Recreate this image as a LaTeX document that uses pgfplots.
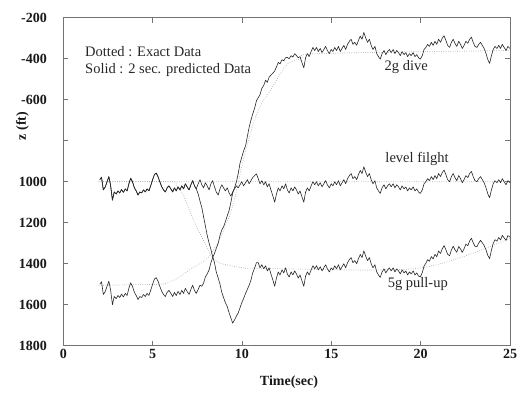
\documentclass[border=0pt]{standalone}
\usepackage{pgfplots}
\usepackage{pgfplotstable}
\pgfplotsset{compat=1.18}
\usepackage{fontspec}
\setmainfont{Liberation Serif}

\pgfplotstableread{
t L P D
2.04 990 990 1500
2.14 978 978 1488
2.24 1040 1040 1550
2.35 1025 1025 1535
2.45 1000 1000 1510
2.55 975 975 1485
2.65 1020 1020 1530
2.75 1090 1090 1600
2.85 1050 1050 1560
2.96 1060 1060 1570
3.06 1045 1045 1555
3.16 1055 1055 1565
3.26 1038 1038 1548
3.36 1052 1052 1562
3.47 1035 1035 1545
3.57 1045 1045 1555
3.67 1010 1010 1520
3.77 983 983 1493
3.87 1000 1000 1510
3.98 1030 1030 1540
4.08 1045 1045 1555
4.18 1065 1065 1575
4.28 1050 1050 1560
4.38 1055 1055 1565
4.49 1040 1040 1550
4.59 1050 1050 1560
4.69 1035 1035 1545
4.79 1045 1045 1555
4.89 1020 1020 1530
5.00 990 990 1500
5.10 965 965 1475
5.20 958 958 1468
5.30 975 975 1485
5.40 1000 1000 1510
5.51 1025 1025 1535
5.61 1040 1040 1550
5.71 1050 1050 1560
5.81 1030 1030 1540
5.91 1020 1020 1530
6.02 1035 1035 1545
6.12 1050 1050 1560
6.22 1030 1030 1540
6.32 1045 1045 1555
6.42 1025 1025 1535
6.53 1040 1040 1550
6.63 1020 1020 1530
6.73 1035 1035 1545
6.83 1010 1010 1520
6.93 1025 1025 1535
7.04 1040 1040 1550
7.14 1015 1015 1525
7.24 995 995 1505
7.34 1020 1020 1530
7.44 1035 1035 1545
7.55 1010 1060 1525
7.65 990 1095 1505
7.75 1015 1125 1510
7.85 1030 1170 1495
7.95 1005 1215 1465
8.05 1020 1260 1450
8.16 1040 1300 1430
8.26 1010 1330 1395
8.36 995 1365 1370
8.46 1025 1395 1350
8.56 1050 1440 1325
8.67 1065 1470 1300
8.77 1035 1500 1262
8.87 1015 1540 1235
8.97 1030 1565 1220
9.07 1045 1590 1195
9.18 1030 1610 1165
9.28 1055 1640 1140
9.38 1070 1665 1100
9.48 1050 1690 1055
9.58 1035 1675 1030
9.69 1020 1655 1000
9.79 1030 1640 960
9.89 1015 1615 910
9.99 1000 1590 880
10.09 1020 1570 850
10.20 1005 1545 825
10.30 990 1525 780
10.40 1010 1505 735
10.50 995 1480 700
10.60 980 1445 670
10.71 970 1420 640
10.81 962 1395 605
10.91 985 1395 590
11.01 1010 1420 575
11.11 995 1405 545
11.22 1015 1425 530
11.32 1000 1410 505
11.42 1025 1435 515
11.52 1010 1420 490
11.62 1040 1450 480
11.73 1070 1480 470
11.83 1100 1510 460
11.93 1060 1470 440
12.03 1030 1440 418
12.13 1045 1455 425
12.24 1020 1430 405
12.34 1035 1445 410
12.44 1010 1420 395
12.54 1040 1450 394
12.64 1055 1465 400
12.75 1030 1440 385
12.85 1045 1455 392
12.95 1025 1435 375
13.05 1040 1450 385
13.15 1060 1470 395
13.25 1045 1455 390
13.36 1075 1485 420
13.46 1100 1510 445
13.56 1050 1460 395
13.66 1030 1440 375
13.76 1045 1455 390
13.87 1020 1430 365
13.97 1000 1410 345
14.07 1015 1425 360
14.17 1000 1410 345
14.27 1020 1430 365
14.38 1005 1415 350
14.48 1025 1435 370
14.58 1010 1420 355
14.68 995 1405 340
14.78 1015 1425 360
14.89 1030 1440 375
14.99 1010 1420 355
15.09 1020 1430 365
15.19 1000 1410 345
15.29 1015 1425 360
15.40 995 1405 340
15.50 1020 1430 365
15.60 1005 1415 350
15.70 990 1400 335
15.80 1010 1420 355
15.91 985 1395 330
16.01 970 1380 315
16.11 960 1370 305
16.21 985 1395 330
16.31 975 1385 320
16.42 990 1400 335
16.52 965 1375 310
16.62 945 1355 290
16.72 960 1370 305
16.82 927 1337 272
16.93 955 1365 300
17.03 975 1385 320
17.13 960 1370 305
17.23 990 1400 335
17.33 1010 1420 355
17.44 995 1405 340
17.54 1030 1440 375
17.64 1045 1455 390
17.74 1057 1467 402
17.84 1030 1440 375
17.95 1015 1425 360
18.05 1035 1445 380
18.15 1020 1430 365
18.25 1010 1420 355
18.35 1025 1435 370
18.46 1010 1420 355
18.56 1030 1440 375
18.66 1015 1425 360
18.76 1025 1435 370
18.86 1040 1450 385
18.96 1020 1430 365
19.07 1035 1445 380
19.17 1025 1435 370
19.27 1045 1455 390
19.37 1030 1440 375
19.47 1040 1450 385
19.58 1025 1435 370
19.68 1045 1455 390
19.78 1035 1445 380
19.88 1050 1460 395
19.98 1057 1464 402
20.09 1040 1444 385
20.19 1010 1411 355
20.29 1000 1398 345
20.39 985 1380 330
20.49 995 1388 340
20.60 975 1365 320
20.70 990 1377 335
20.80 970 1354 315
20.90 985 1366 330
21.00 960 1338 305
21.11 975 1350 320
21.21 955 1327 300
21.31 943 1312 288
21.41 965 1331 310
21.51 990 1354 335
21.62 1000 1361 345
21.72 975 1333 320
21.82 960 1315 305
21.92 980 1332 325
22.02 995 1344 340
22.13 970 1316 315
22.23 985 1328 330
22.33 1005 1345 350
22.43 990 1327 335
22.53 970 1305 315
22.64 980 1312 325
22.74 960 1289 305
22.84 950 1276 295
22.94 975 1298 320
23.04 995 1315 340
23.15 1000 1317 345
23.25 985 1299 330
23.35 975 1286 320
23.45 990 1298 335
23.55 1005 1311 350
23.66 1030 1333 375
23.76 1060 1360 405
23.86 1078 1375 423
23.96 1040 1334 385
24.06 1010 1301 355
24.16 995 1283 340
24.27 1005 1290 350
24.37 990 1272 335
24.47 1005 1284 350
24.57 985 1262 330
24.67 1000 1274 345
24.78 1015 1286 360
24.88 995 1263 340
25.00 1005 1270 350
}\flight

\begin{document}
\begin{tikzpicture}
\useasboundingbox (-63.3pt,-46.3pt) rectangle (457.7pt,345.7pt);
\begin{axis}[
  at={(0,0)}, anchor=south west,
  width=446.7pt, height=328pt, scale only axis,
  xmin=0, xmax=25, ymin=200, ymax=1800, y dir=reverse,
  xtick={0,5,10,15,20,25},
  xticklabels={0,5,10,15,20,25},
  ytick={200,400,600,800,1000,1200,1400,1600,1800},
  yticklabels={-200,-400,-600,,1000,1200,1400,1600,1800},
  tick align=inside, major tick length=5pt,
  ticklabel style={font=\fontsize{14}{14}\selectfont\bfseries, text=black!90},
  yticklabel style={xshift=-13pt},
  axis line style={black!55, line width=0.6pt},
  tick style={black!55, line width=0.6pt},
  clip=true,
]
% exact data (dotted)
\addplot[gray!70, line width=0.9pt, dash pattern=on 0pt off 2.3pt, line cap=round]
  coordinates {(2,1000) (25,1000)};
\addplot[gray!70, line width=0.9pt, dash pattern=on 0pt off 2.3pt, line cap=round, smooth, tension=0.5]
  coordinates {(2,1000) (6.0,1000) (6.3,1015) (6.72,1065) (7.28,1187) (7.84,1284) (8.31,1366) (8.7,1395) (9.15,1406) (10.08,1420) (11,1422) (19.88,1422) (25,1275)};
\addplot[gray!70, line width=0.9pt, dash pattern=on 0pt off 2.3pt, line cap=round, smooth, tension=0.5]
  coordinates {(2,1505) (5.4,1500) (6.0,1487) (6.54,1463) (7.3,1415) (7.8,1392) (8.3,1350) (8.9,1250) (9.35,1155) (9.7,1045) (9.9,960) (10.2,850) (10.64,715) (11.1,618) (11.6,553) (12.05,488) (12.6,422) (13.36,398) (14.3,375) (25,360)};
% predicted data (solid)
\addplot[black!85, line width=0.6pt, line join=round] table[x=t, y=L]{\flight};
\addplot[black!85, line width=0.6pt, line join=round] table[x=t, y=P]{\flight};
\addplot[black!85, line width=0.6pt, line join=round] table[x=t, y=D]{\flight};
% annotations
\node[anchor=base west, font=\fontsize{14.5}{14.5}\selectfont, text=black!85] at (axis cs:1.03,390) {Dotted : Exact Data};
\node[anchor=base west, font=\fontsize{14.5}{14.5}\selectfont, text=black!85] at (axis cs:1.03,471) {Solid : 2 sec. predicted Data};
\node[anchor=base, font=\fontsize{14.5}{14.5}\selectfont, text=black!85] at (axis cs:19.19,459) {2g dive};
\node[anchor=base, font=\fontsize{14.5}{14.5}\selectfont, text=black!85] at (axis cs:19.8,907) {level filght};
\node[anchor=base, font=\fontsize{14.5}{14.5}\selectfont, text=black!85] at (axis cs:19.84,1515) {5g pull-up};
\end{axis}
\node[rotate=90, font=\fontsize{14}{14}\selectfont\bfseries, text=black!90] at (-40.8pt,219.7pt) {z (ft)};
\node[font=\fontsize{14}{14}\selectfont\bfseries, text=black!90] at (225.7pt,-36.3pt) {Time(sec)};
\end{tikzpicture}
\end{document}
